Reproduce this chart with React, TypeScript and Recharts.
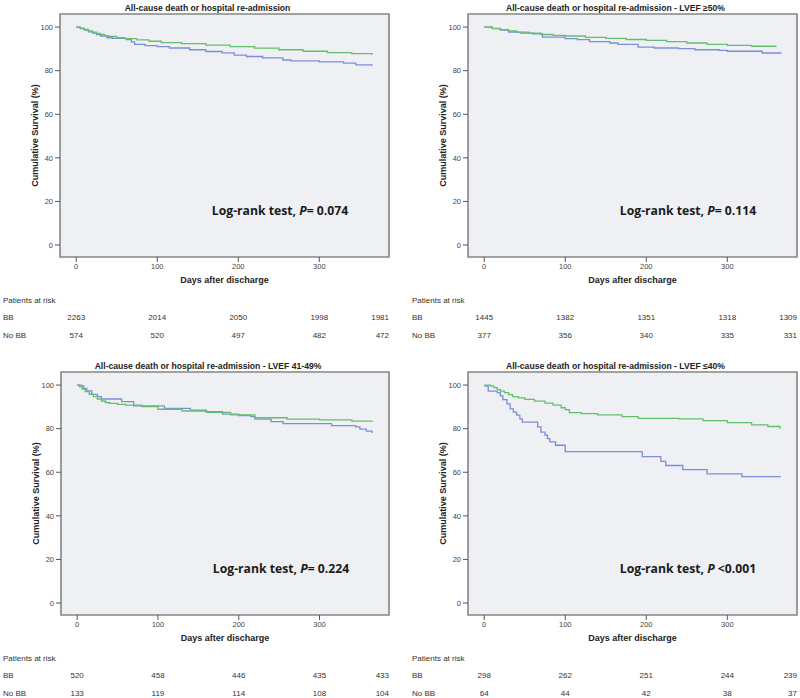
import React from 'react';
import { LineChart, Line, XAxis, YAxis, ReferenceArea } from 'recharts';

const GREEN = '#63bf6e';
const BLUE = '#7d8ed8';
const FONT = '"Liberation Sans", Arial, sans-serif';

// [day, cumulative survival %]
const allBB = [
  [0, 100], [5, 99.5], [10, 98.9], [15, 98.3], [20, 97.7], [25, 97.1], [30, 96.6], [35, 96.1],
  [40, 95.7], [50, 95.1], [60, 94.7], [75, 94.1], [90, 93.5], [105, 92.9], [130, 92.4],
  [160, 91.7], [190, 91.0], [220, 90.3], [250, 89.6], [280, 88.9], [310, 88.3], [340, 87.8], [365, 87.3],
];
const allNoBB = [
  [0, 100], [5, 99.3], [10, 98.6], [15, 97.8], [20, 97.2], [25, 96.5], [30, 95.9], [38, 95.1],
  [45, 94.8], [62, 94.3], [68, 93.2], [72, 92.1], [85, 91.5], [100, 91.0], [115, 90.4], [140, 89.6],
  [160, 88.8], [180, 88.2], [195, 87.1], [210, 86.5], [230, 85.9], [255, 84.9], [265, 84.5],
  [300, 84.0], [330, 83.5], [345, 82.7], [365, 82.2],
];

const hiBB = [
  [0, 100], [10, 99.4], [20, 98.8], [30, 98.2], [40, 97.7], [55, 97.2], [70, 96.6], [85, 96.2],
  [100, 95.9], [125, 95.3], [150, 94.8], [175, 94.3], [200, 93.9], [225, 93.3], [250, 92.7],
  [275, 92.1], [300, 91.6], [330, 91.2], [360, 90.8],
];
const hiNoBB = [
  [0, 100], [10, 99.3], [20, 98.6], [30, 97.7], [45, 97.2], [60, 96.9], [72, 95.4], [100, 94.7],
  [115, 94.2], [130, 93.3], [155, 92.7], [165, 92.1], [190, 90.8], [210, 90.4], [240, 90.1],
  [260, 89.6], [290, 89.3], [300, 88.9], [343, 88.1], [366, 87.8],
];

const midBB = [
  [0, 100], [3, 99.2], [6, 98.2], [10, 97.0], [15, 95.8], [20, 94.7], [25, 93.6], [30, 92.7],
  [35, 92.0], [40, 91.6], [50, 91.1], [60, 90.8], [80, 90.1], [100, 88.9], [130, 88.1],
  [160, 87.5], [190, 86.3], [220, 85.0], [260, 84.4], [300, 84.0], [340, 83.5], [365, 83.2],
];
const midNoBB = [
  [0, 100], [5, 99.7], [8, 98.5], [12, 97.3], [18, 95.7], [25, 94.7], [30, 93.6], [55, 92.4],
  [70, 90.5], [108, 89.3], [140, 88.5], [160, 87.8], [180, 86.7], [200, 86.0], [215, 85.5],
  [220, 84.4], [240, 83.2], [255, 82.3], [315, 81.4], [345, 80.8], [350, 79.8], [358, 78.9], [365, 78.0],
];

const lowBB = [
  [0, 100], [5, 100], [8, 99.5], [12, 98.8], [16, 97.9], [20, 97.2], [25, 96.5], [30, 95.6],
  [35, 94.7], [42, 94.1], [50, 93.4], [62, 92.6], [75, 91.7], [85, 90.8], [95, 89.6], [100, 88.7],
  [105, 87.4], [120, 86.9], [140, 86.3], [170, 85.5], [190, 84.7], [240, 84.5], [270, 83.7],
  [300, 82.8], [330, 81.7], [350, 81.0], [365, 80.0],
];
const lowNoBB = [
  [0, 99.5], [5, 97.2], [16, 96.5], [20, 95.0], [23, 93.3], [28, 91.4], [32, 89.1], [36, 87.6],
  [40, 86.2], [44, 84.5], [47, 83.0], [66, 80.8], [70, 78.4], [75, 77.0], [78, 75.4], [81, 73.9],
  [88, 72.4], [100, 69.5], [195, 67.2], [218, 65.0], [224, 63.1], [245, 61.2], [275, 59.3],
  [318, 58.0], [366, 58.0],
];

// patients at risk, columns at day 0, 100, 200, 300 and end of follow-up
const riskDays = [0, 100, 200, 300, 386];
const allRiskBB = [2263, 2014, 2050, 1998, 1981];
const allRiskNoBB = [574, 520, 497, 482, 472];
const hiRiskBB = [1445, 1382, 1351, 1318, 1309];
const hiRiskNoBB = [377, 356, 340, 335, 331];
const midRiskBB = [520, 458, 446, 435, 433];
const midRiskNoBB = [133, 119, 114, 108, 104];
const lowRiskBB = [298, 262, 251, 244, 239];
const lowRiskNoBB = [64, 44, 42, 38, 37];

const yTicks = [0, 20, 40, 60, 80, 100];
const X_DOMAIN = [-20, 386];
const Y_DOMAIN = [-5.5, 106];

const toRows = (pts) => pts.map(([day, surv]) => ({ day, surv }));

function KMPanel({ left, top, yW, rightM, labelX, title, bb, nobb, pSign, pValue, riskBB, riskNoBB }) {
  const boxL = yW;
  const boxR = 400 - rightM;
  const cx = (boxL + boxR) / 2;

  const tick = (props) => {
    const { x, y, payload, index } = props;
    const last = index === riskDays.length - 1;
    const anchor = last ? 'end' : 'middle';
    return (
      <g fontFamily={FONT}>
        {!last && <line x1={x} x2={x} y1={y} y2={y + 5} stroke="#555" />}
        {!last && (
          <text x={x} y={y + 12} textAnchor="middle" fontSize={7.5} fill="#444">{payload.value}</text>
        )}
        {index === 0 && (
          <g fontSize={8} fill="#333">
            <text x={labelX} y={y + 46}>Patients at risk</text>
            <text x={labelX} y={y + 63}>BB</text>
            <text x={labelX} y={y + 81}>No BB</text>
          </g>
        )}
        <text x={x} y={y + 63} textAnchor={anchor} fontSize={8} fill="#333">{riskBB[index]}</text>
        <text x={x} y={y + 81} textAnchor={anchor} fontSize={8} fill="#333">{riskNoBB[index]}</text>
      </g>
    );
  };

  return (
    <div style={{ position: 'absolute', left, top, width: 400, height: 340 }}>
      <div
        style={{
          position: 'absolute', left: cx - 17 - 150, top: 2, width: 300, textAlign: 'center',
          fontFamily: FONT, fontWeight: 'bold', fontSize: 8.6, lineHeight: '12px', color: '#222',
        }}
      >
        {title}
      </div>
      <LineChart width={400} height={340} margin={{ top: 14, right: rightM, left: 0, bottom: 50 }}>
        <ReferenceArea
          x1={X_DOMAIN[0]} x2={X_DOMAIN[1]} y1={Y_DOMAIN[0]} y2={Y_DOMAIN[1]}
          fill="#eef0f3" fillOpacity={1} stroke="#858585" strokeWidth={1.6} ifOverflow="visible"
        />
        <XAxis
          dataKey="day" type="number" domain={X_DOMAIN} allowDataOverflow ticks={riskDays} interval={0}
          tick={tick} tickLine={false} axisLine={false} tickSize={0} tickMargin={0} height={33}
          label={{ value: 'Days after discharge', position: 'insideBottom', offset: 7, fontSize: 9, fontWeight: 'bold', fill: '#222', fontFamily: FONT }}
        />
        <YAxis
          type="number" domain={Y_DOMAIN} allowDataOverflow ticks={yTicks} width={yW}
          axisLine={false} tickSize={5} tickLine={{ stroke: '#555' }}
          tick={{ fontSize: 7.5, fill: '#444', fontFamily: FONT }}
          label={{ value: 'Cumulative Survival (%)', angle: -90, position: 'center', dx: yW / 2 - 25, fontSize: 9, fontWeight: 'bold', fill: '#222', fontFamily: FONT }}
        />
        <Line data={toRows(nobb)} dataKey="surv" type="stepAfter" stroke={BLUE} strokeWidth={1.3} dot={false} isAnimationActive={false} />
        <Line data={toRows(bb)} dataKey="surv" type="stepAfter" stroke={GREEN} strokeWidth={1.3} dot={false} isAnimationActive={false} />
      </LineChart>
      <div
        style={{
          position: 'absolute', left: boxL + 220 - 110, top: 14 + 197 - 11, width: 220, textAlign: 'center',
          fontFamily: '"Open Sans", sans-serif', fontWeight: 'bold', fontSize: 12.2, lineHeight: '22px', color: '#1a1a1a',
        }}
      >
        Log-rank test, <i>P</i>{pSign}{pValue}
      </div>
    </div>
  );
}

export default function App() {
  return (
    <div style={{ position: 'fixed', left: 0, top: 0, width: 800, height: 698, overflow: 'hidden', background: '#fff' }}>
      <KMPanel left={0} top={0} yW={60} rightM={11} labelX={3}
        title="All-cause death or hospital re-admission"
        bb={allBB} nobb={allNoBB} pSign="= " pValue="0.074" riskBB={allRiskBB} riskNoBB={allRiskNoBB} />
      <KMPanel left={400} top={0} yW={68} rightM={3} labelX={12}
        title="All-cause death or hospital re-admission - LVEF ≥50%"
        bb={hiBB} nobb={hiNoBB} pSign="= " pValue="0.114" riskBB={hiRiskBB} riskNoBB={hiRiskNoBB} />
      <KMPanel left={0} top={358} yW={61} rightM={11} labelX={3}
        title="All-cause death or hospital re-admission - LVEF 41-49%"
        bb={midBB} nobb={midNoBB} pSign="= " pValue="0.224" riskBB={midRiskBB} riskNoBB={midRiskNoBB} />
      <KMPanel left={400} top={358} yW={68} rightM={3} labelX={12}
        title="All-cause death or hospital re-admission - LVEF ≤40%"
        bb={lowBB} nobb={lowNoBB} pSign=" <" pValue="0.001" riskBB={lowRiskBB} riskNoBB={lowRiskNoBB} />
    </div>
  );
}
